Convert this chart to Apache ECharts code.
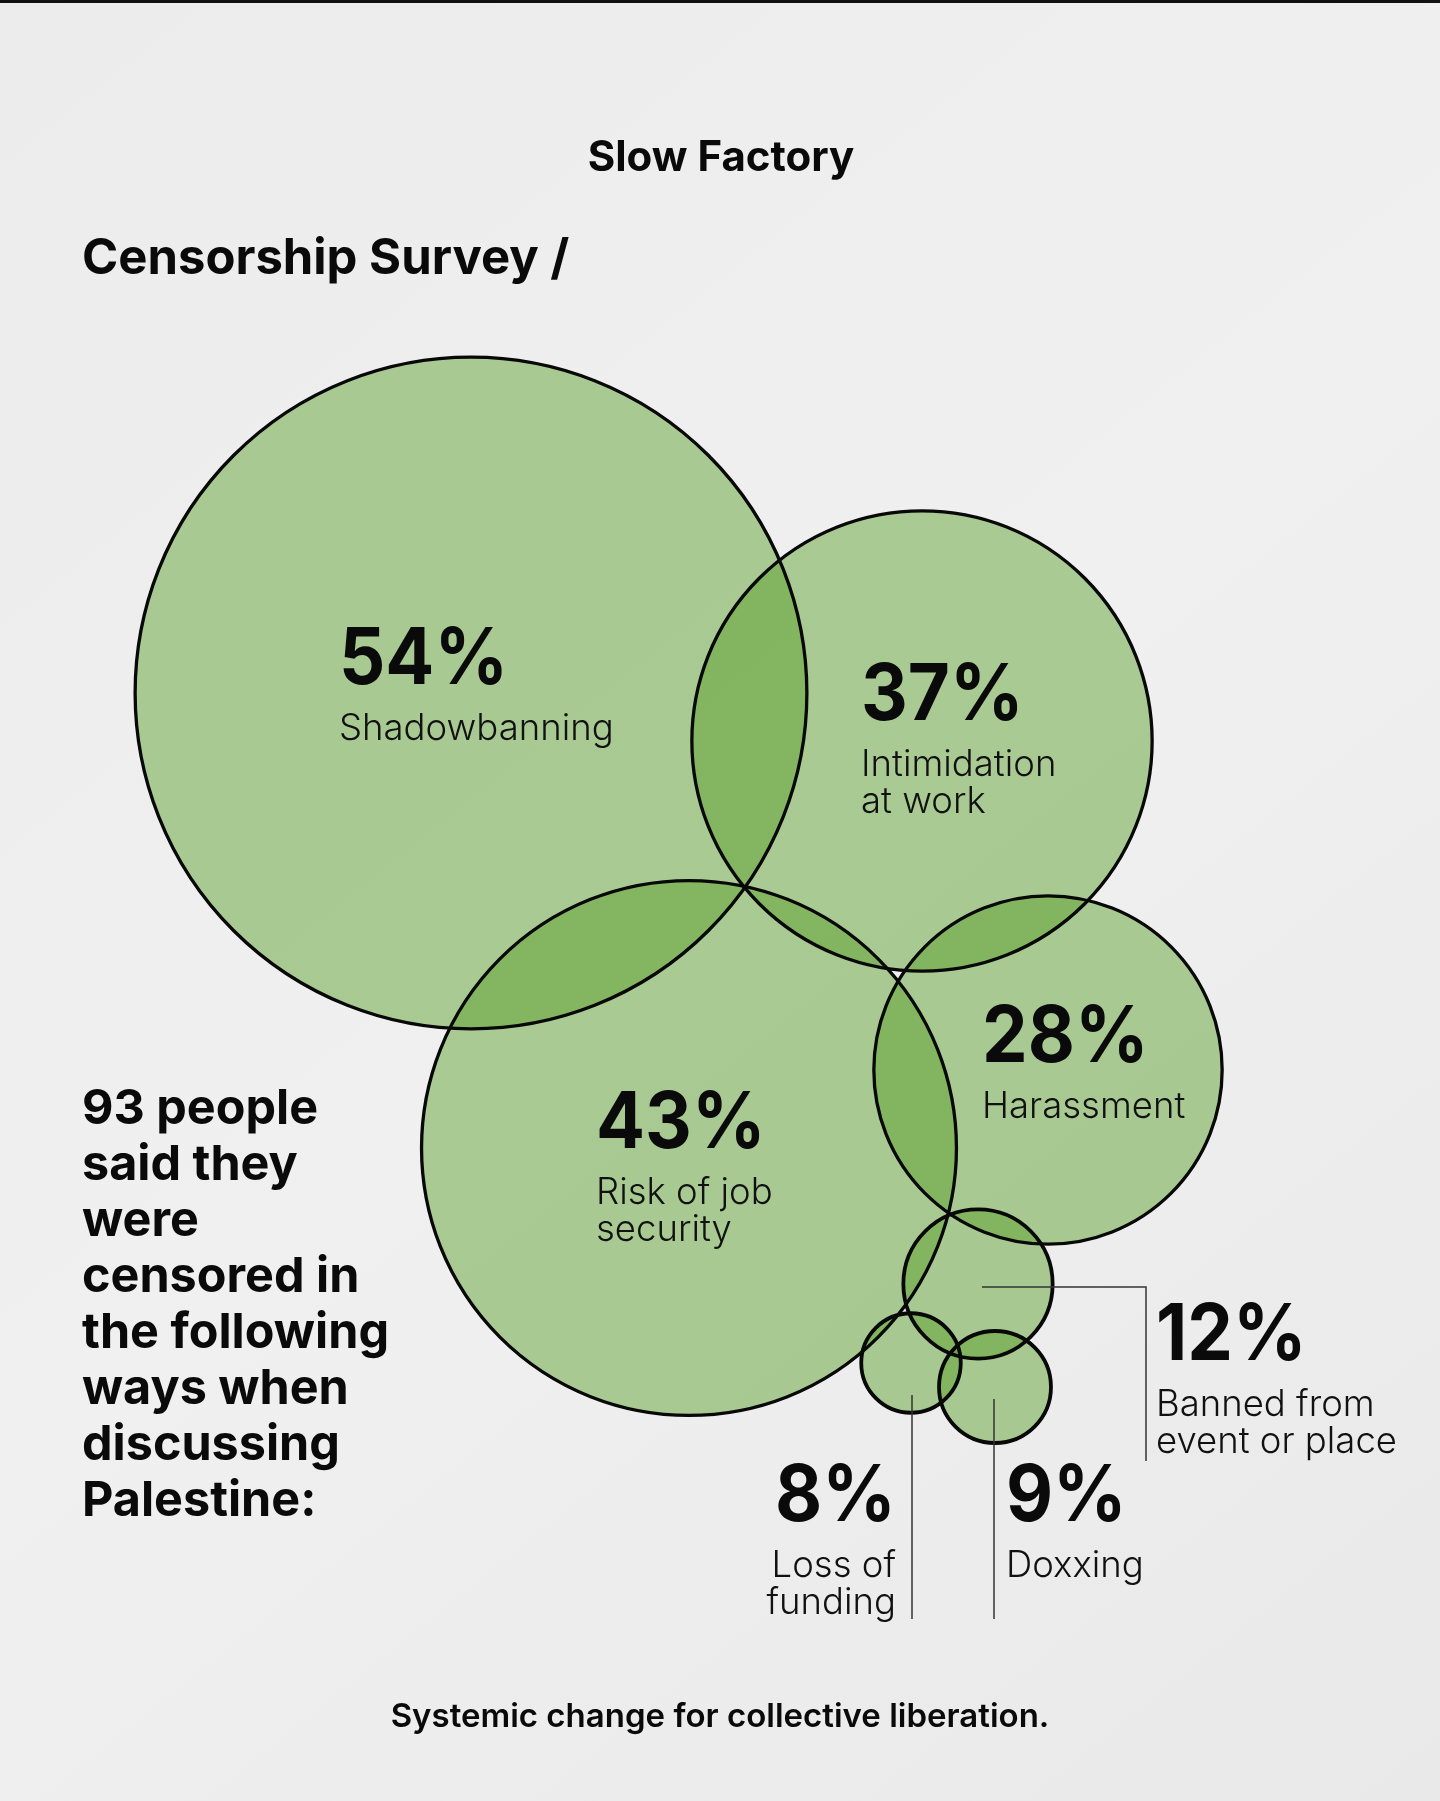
<!DOCTYPE html>
<html>
<head>
<meta charset="utf-8">
<script src="https://cdn.jsdelivr.net/npm/echarts@6/dist/echarts.min.js"></script>
<style>
  html, body { margin: 0; padding: 0; }
  body { width: 1440px; height: 1801px; background: #ececec; }
  #chart { width: 1440px; height: 1801px; }
</style>
</head>
<body>
<div id="chart"></div>
<script>
// ---------- data ----------
const categories = ['Shadowbanning', 'Intimidation\nat work', 'Risk of job\nsecurity', 'Harassment', 'Banned from\nevent or place', 'Loss of\nfunding', 'Doxxing'];
const values = [54, 37, 43, 28, 12, 8, 9];
const respondents = 93;

// ---------- layout (chart coordinates, separate from data) ----------
const circleCenters = [[471, 693], [922, 741], [689, 1148], [1048, 1070], [978, 1284], [911, 1363], [995, 1387]];
const labelAnchors = [[339, 661, 'left'], [861, 697, 'left'], [596, 1125, 'left'], [982, 1039, 'left'], [1156, 1337, 'left'], [896, 1498, 'right'], [1006, 1498, 'left']];
const leaderLines = [
  [[982, 1287], [1146, 1287], [1146, 1461]],
  [[912, 1395], [912, 1619]],
  [[994, 1399], [994, 1619]]
];
const RADIUS_PER_PERCENT = 6.22;

const chart = echarts.init(document.getElementById('chart'), null, { renderer: 'canvas', width: 1440, height: 1801 });

const circleData = values.map((v, i) => [circleCenters[i][0], circleCenters[i][1], v, i]);
const labelData = values.map((v, i) => [labelAnchors[i][0], labelAnchors[i][1], v, i]);

function circleItem(fillMode) {
  return function (params, api) {
    const c = api.coord([api.value(0), api.value(1)]);
    const r = api.size([api.value(2) * RADIUS_PER_PERCENT, 0])[0];
    return {
      type: 'circle',
      shape: { cx: c[0], cy: c[1], r: r },
      style: fillMode
        ? { fill: 'rgba(88,156,36,0.46)', stroke: null }
        : { fill: null, stroke: '#080808', lineWidth: r < 100 ? 3.8 : 3.3 }
    };
  };
}

const paragraph = [respondents + ' people', 'said they', 'were', 'censored in', 'the following', 'ways when', 'discussing', 'Palestine:'];

const option = {
  backgroundColor: {
    type: 'linear', x: 0, y: 0, x2: 1, y2: 1,
    colorStops: [
      { offset: 0, color: '#ececec' },
      { offset: 0.5, color: '#f0f0f0' },
      { offset: 1, color: '#e9e9e9' }
    ]
  },
  animation: false,
  grid: { left: 0, right: 0, top: 0, bottom: 0 },
  xAxis: { type: 'value', min: 0, max: 1440, show: false },
  yAxis: { type: 'value', min: 0, max: 1801, inverse: true, show: false },
  graphic: [
    { type: 'rect', left: 0, top: 0, shape: { width: 1440, height: 3 }, style: { fill: '#111' } },
    { type: 'text', x: 721, y: 158, style: { text: 'Slow Factory', font: '700 42px Inter', fill: '#0a0a0a', textAlign: 'center', textVerticalAlign: 'middle' } },
    { type: 'text', x: 82, y: 259, style: { text: 'Censorship Survey /', font: '700 49px Inter', fill: '#0a0a0a', textAlign: 'left', textVerticalAlign: 'middle' } },
    { type: 'text', x: 82, y: 1081, style: { text: paragraph.join('\n'), font: '700 48.5px Inter', lineHeight: 56, fill: '#0a0a0a', textAlign: 'left', textVerticalAlign: 'top' } },
    { type: 'text', x: 720, y: 1717, style: { text: 'Systemic change for collective liberation.', font: '600 33px Inter', fill: '#0a0a0a', textAlign: 'center', textVerticalAlign: 'middle' } }
  ],
  series: [
    { type: 'custom', coordinateSystem: 'cartesian2d', data: circleData, renderItem: circleItem(true), silent: true, z: 2 },
    { type: 'custom', coordinateSystem: 'cartesian2d', data: circleData, renderItem: circleItem(false), silent: true, z: 3 },
    {
      type: 'custom', coordinateSystem: 'cartesian2d', silent: true, z: 4,
      data: leaderLines.map((pts, i) => [pts[0][0], pts[0][1], i]),
      renderItem: function (params, api) {
        const pts = leaderLines[api.value(2)].map(p => api.coord(p));
        return { type: 'polyline', shape: { points: pts }, style: { stroke: '#333', lineWidth: 1.5, fill: null } };
      }
    },
    {
      type: 'custom', coordinateSystem: 'cartesian2d', data: labelData, silent: true, z: 5,
      renderItem: function (params, api) {
        const i = api.value(3);
        const p = api.coord([api.value(0), api.value(1)]);
        const align = labelAnchors[i][2];
        return {
          type: 'group',
          children: [
            { type: 'text', x: p[0], y: p[1], scaleX: 0.93, style: { text: api.value(2) + '%', font: '700 78px Inter', fill: '#0a0a0a', textAlign: align, textVerticalAlign: 'middle' } },
            { type: 'text', x: p[0], y: p[1] + 50, style: { text: categories[i], font: '300 36.5px Inter', lineHeight: 37, fill: '#111', textAlign: align, textVerticalAlign: 'top' } }
          ]
        };
      }
    }
  ]
};
chart.setOption(option);
</script>
</body>
</html>
